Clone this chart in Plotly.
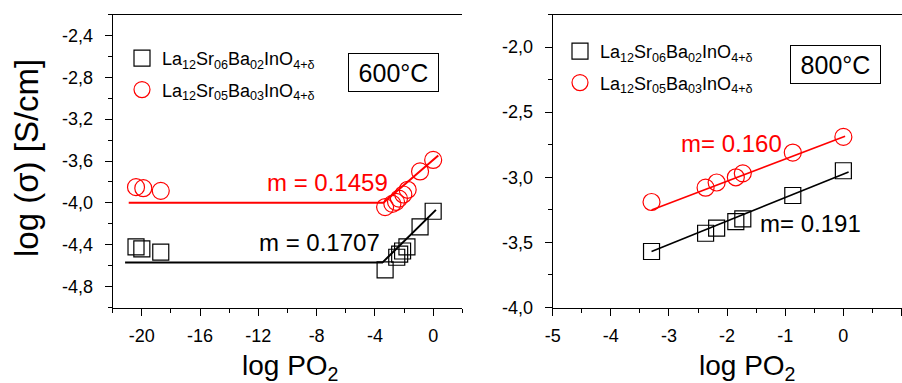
import numpy as np
import plotly.graph_objects as go

# ---------------- data ----------------
name_a = "La<sub>12</sub>Sr<sub>06</sub>Ba<sub>02</sub>InO<sub>4+δ</sub>"
name_b = "La<sub>12</sub>Sr<sub>05</sub>Ba<sub>03</sub>InO<sub>4+δ</sub>"

# 600 °C
x600_a = [-20.4, -20.0, -18.7, -3.3, -2.5, -2.3, -2.1, -1.8, -0.9, 0.0]
y600_a = [-4.42, -4.44, -4.47, -4.64, -4.52, -4.49, -4.46, -4.42, -4.23, -4.08]
x600_b = [-20.4, -19.9, -18.7, -3.3, -2.8, -2.55, -2.35, -2.05, -1.75, -0.9, 0.0]
y600_b = [-3.85, -3.86, -3.885, -4.04, -4.01, -3.99, -3.96, -3.92, -3.875, -3.70, -3.59]

# 600 °C fits: plateau level, plateau start, slope, intercept, end
fit600_a = dict(level=-4.571, x0=-21.15, slope=0.137, icpt=-4.093, x1=0.19)
fit600_b = dict(level=-4.0, x0=-20.9, slope=0.12, icpt=-3.59, x1=0.35)

# 800 °C
x800 = [-3.3, -2.37, -2.18, -1.85, -1.73, -0.87, 0.0]
y800_a = [-3.57, -3.43, -3.39, -3.34, -3.32, -3.14, -2.95]
y800_b = [-3.19, -3.08, -3.04, -3.00, -2.97, -2.81, -2.69]
fit800_a = dict(slope=0.18, icpt=-2.976, x0=-3.30, x1=0.09)
fit800_b = dict(slope=0.17, icpt=-2.69, x0=-3.30, x1=0.03)

# tick labels
xt600 = [-20, -16, -12, -8, -4, 0]
xt600_text = ["-20", "-16", "-12", "-8", "-4", "0"]
yt600 = [-4.8, -4.4, -4.0, -3.6, -3.2, -2.8, -2.4]
yt600_text = ["-4,8", "-4,4", "-4,0", "-3,6", "-3,2", "-2,8", "-2,4"]
xt800 = [-5, -4, -3, -2, -1, 0, 1]
xt800_text = ["-5", "-4", "-3", "-2", "-1", "0", "1"]
yt800 = [-4.0, -3.5, -3.0, -2.5, -2.0]
yt800_text = ["-4,0", "-3,5", "-3,0", "-2,5", "-2,0"]

labels_600 = ["m = 0.1707", "m = 0.1459"]
labels_800 = ["m= 0.191", "m= 0.160"]
temps = ["600°C", "800°C"]

RED = "#FF0000"
BLK = "#000000"
FONT = "Liberation Sans, Arial, sans-serif"

W, H = 902, 383


def px_x(p):
    return p / W


def px_y(p):
    return 1 - p / H


def plateau_line(f):
    xb = (f["level"] - f["icpt"]) / f["slope"]
    xs = np.array([f["x0"], xb, f["x1"]])
    ys = np.array([f["level"], f["level"], f["icpt"] + f["slope"] * f["x1"]])
    return xs, ys


def straight_line(f):
    xs = np.array([f["x0"], f["x1"]])
    return xs, f["icpt"] + f["slope"] * xs


fig = go.Figure()

# ---- left panel ----
for f, col in [(fit600_a, BLK), (fit600_b, RED)]:
    xs, ys = plateau_line(f)
    fig.add_trace(go.Scatter(x=xs, y=ys, mode="lines", line=dict(color=col, width=2),
                             showlegend=False, xaxis="x", yaxis="y", hoverinfo="skip"))
fig.add_trace(go.Scatter(x=x600_a, y=y600_a, mode="markers", name=name_a,
                         marker=dict(symbol="square-open", size=16, color=BLK, line=dict(width=1.2)),
                         xaxis="x", yaxis="y", legend="legend", legendgroup="a"))
fig.add_trace(go.Scatter(x=x600_b, y=y600_b, mode="markers", name=name_b,
                         marker=dict(symbol="circle-open", size=17, color=RED, line=dict(width=1.2)),
                         xaxis="x", yaxis="y", legend="legend", legendgroup="b"))

# ---- right panel ----
for f, col in [(fit800_a, BLK), (fit800_b, RED)]:
    xs, ys = straight_line(f)
    fig.add_trace(go.Scatter(x=xs, y=ys, mode="lines", line=dict(color=col, width=1.6),
                             showlegend=False, xaxis="x2", yaxis="y2", hoverinfo="skip"))
fig.add_trace(go.Scatter(x=x800, y=y800_a, mode="markers", name=name_a,
                         marker=dict(symbol="square-open", size=16, color=BLK, line=dict(width=1.2)),
                         xaxis="x2", yaxis="y2", legend="legend2", legendgroup="a"))
fig.add_trace(go.Scatter(x=x800, y=y800_b, mode="markers", name=name_b,
                         marker=dict(symbol="circle-open", size=17, color=RED, line=dict(width=1.2)),
                         xaxis="x2", yaxis="y2", legend="legend2", legendgroup="b"))

ydom = [px_y(307.5), px_y(14.5)]
tickfont = dict(family=FONT, size=18, color=BLK)
common = dict(showgrid=False, zeroline=False, showline=True, linecolor=BLK, linewidth=1,
              ticks="outside", tickcolor=BLK, tickwidth=1, tickfont=tickfont, tickmode="array",
              automargin=False)

fig.update_layout(
    template="none",
    width=W, height=H,
    margin=dict(l=0, r=0, t=0, b=0, pad=0),
    paper_bgcolor="white", plot_bgcolor="white",
    font=dict(family=FONT, color=BLK),
    xaxis=dict(domain=[px_x(112.7), px_x(462.3)], range=[-22, 2], anchor="y",
               tickvals=xt600, ticktext=xt600_text, ticklen=7, mirror=True, ticklabelstandoff=5,
               minor=dict(tick0=0, dtick=2, ticklen=4, ticks="outside", tickcolor=BLK), **common),
    yaxis=dict(domain=ydom, range=[-5.0, -2.2], anchor="x",
               tickvals=yt600, ticktext=yt600_text, ticklen=7, ticklabelstandoff=8,
               minor=dict(tick0=-2.4, dtick=0.2, ticklen=4, ticks="outside", tickcolor=BLK), **common),
    yaxis3=dict(overlaying="y", side="right", anchor="x", range=[-5.0, -2.2],
                showgrid=False, zeroline=False, showline=True, linecolor=BLK, linewidth=1,
                ticks="inside", tick0=-2.4, dtick=0.2, ticklen=3, tickcolor=BLK,
                showticklabels=False, automargin=False),
    xaxis2=dict(domain=[px_x(552.7), px_x(901.5)], range=[-5, 1], anchor="y2",
                tickvals=xt800, ticktext=xt800_text, ticklen=7, mirror=True, ticklabelstandoff=5,
                minor=dict(tick0=0, dtick=0.5, ticklen=4, ticks="outside", tickcolor=BLK), **common),
    yaxis2=dict(domain=ydom, range=[-4.0, -1.75], anchor="x2",
                tickvals=yt800, ticktext=yt800_text, ticklen=7, ticklabelstandoff=8,
                minor=dict(tick0=-2.0, dtick=0.25, ticklen=4, ticks="outside", tickcolor=BLK), **common),
    legend=dict(x=px_x(122), y=px_y(40), xanchor="left", yanchor="top",
                font=dict(family=FONT, size=18, color=BLK), bgcolor="rgba(0,0,0,0)",
                tracegroupgap=5, itemwidth=30),
    legend2=dict(x=px_x(560), y=px_y(33), xanchor="left", yanchor="top",
                 font=dict(family=FONT, size=18, color=BLK), bgcolor="rgba(0,0,0,0)",
                 tracegroupgap=5, itemwidth=30),
    showlegend=True,
)

# slope labels
fig.add_annotation(x=-3.48, y=-4.376, xref="x", yref="y", text=labels_600[0], showarrow=False,
                   xanchor="right", yanchor="middle", font=dict(size=24, color=BLK, family=FONT))
fig.add_annotation(x=-2.98, y=-3.808, xref="x", yref="y", text=labels_600[1], showarrow=False,
                   xanchor="right", yanchor="middle", font=dict(size=24, color=RED, family=FONT))
fig.add_annotation(x=-1.46, y=-3.354, xref="x2", yref="y2", text=labels_800[0], showarrow=False,
                   xanchor="left", yanchor="middle", font=dict(size=24, color=BLK, family=FONT))
fig.add_annotation(x=-2.83, y=-2.738, xref="x2", yref="y2", text=labels_800[1], showarrow=False,
                   xanchor="left", yanchor="middle", font=dict(size=24, color=RED, family=FONT))

# temperature boxes
fig.add_annotation(x=-2.75, y=-2.75, xref="x", yref="y", text=temps[0], showarrow=False,
                   font=dict(size=25, color=BLK, family=FONT), bordercolor=BLK, borderwidth=1,
                   width=85, height=33, borderpad=2, bgcolor="white")
fig.add_annotation(x=-0.134, y=-2.137, xref="x2", yref="y2", text=temps[1], showarrow=False,
                   font=dict(size=25, color=BLK, family=FONT), bordercolor=BLK, borderwidth=1,
                   width=85, height=33, borderpad=2, bgcolor="white")

# axis titles
fig.add_annotation(x=px_x(26), y=px_y(158), xref="paper", yref="paper", text="log (σ) [S/cm]",
                   textangle=-90, showarrow=False, xanchor="center", yanchor="middle",
                   font=dict(size=33, color=BLK, family=FONT))
for cx in (290, 747):
    fig.add_annotation(x=px_x(cx), y=px_y(367), xref="paper", yref="paper", text="log PO<sub>2</sub>",
                       showarrow=False, xanchor="center", yanchor="middle",
                       font=dict(size=28, color=BLK, family=FONT))

fig.write_html("out.html")
